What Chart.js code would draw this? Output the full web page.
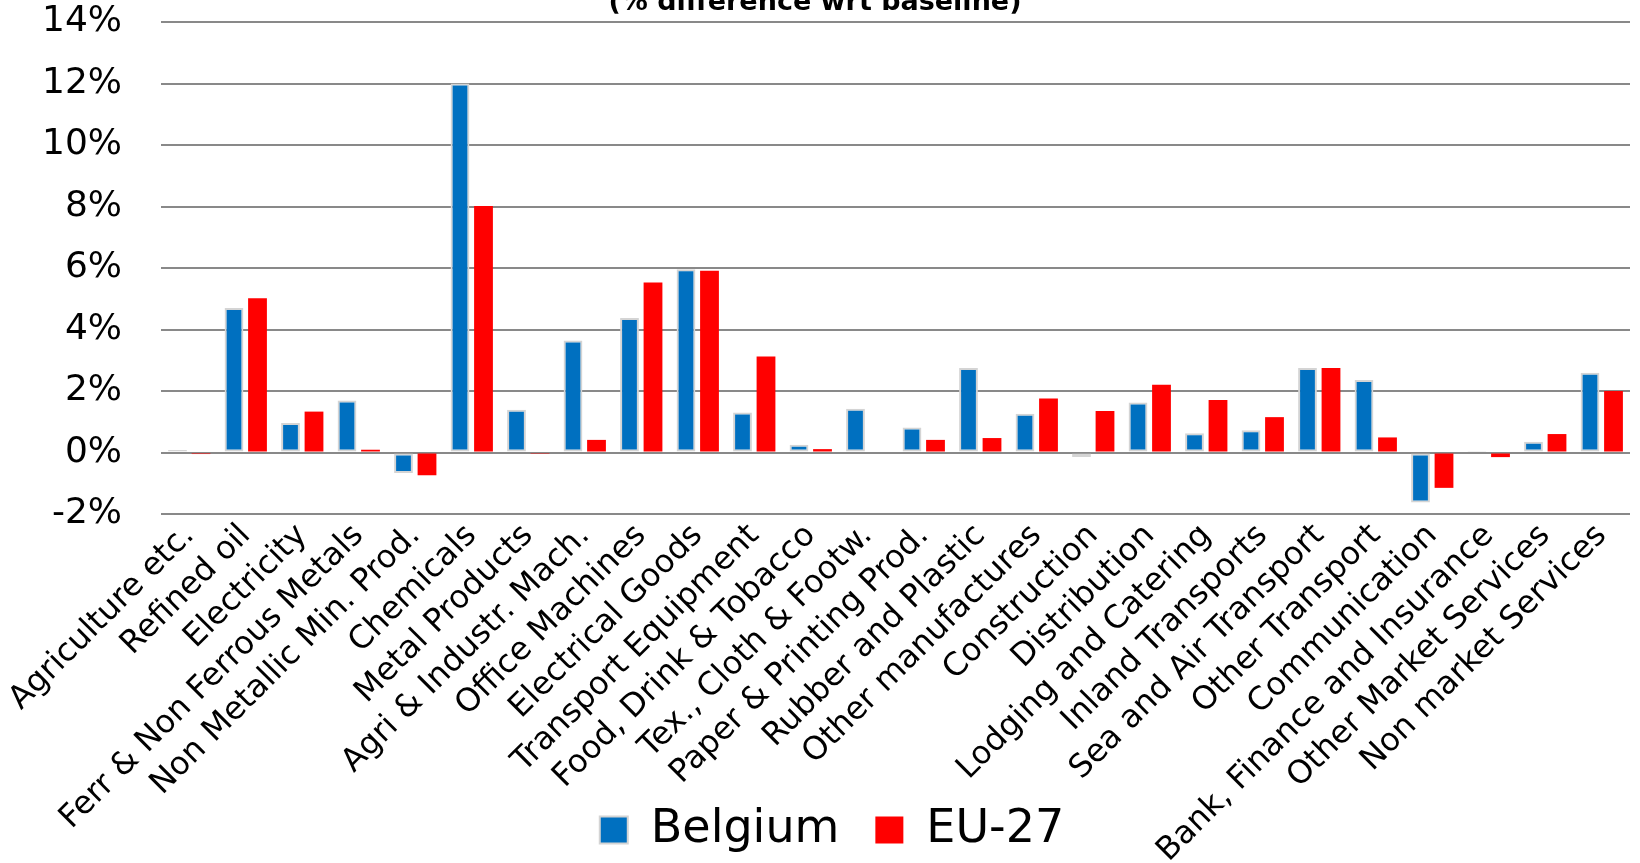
<!DOCTYPE html>
<html>
<head>
<meta charset="utf-8">
<script src="https://cdn.jsdelivr.net/npm/chart.js@4/dist/chart.umd.min.js"></script>
<style>
  html, body { margin: 0; padding: 0; background: #ffffff; overflow: hidden; width: 1640px; height: 863px; }
  #wrap { position: absolute; left: 0; top: -13px; width: 1640px; height: 876px; }
</style>
</head>
<body>
<div id="wrap"><canvas id="chart" width="1640" height="876"></canvas></div>
<script>
// Sectors on the category axis
const sectors = [
  'Agriculture etc.', 'Refined oil', 'Electricity', 'Ferr & Non Ferrous Metals',
  'Non Metallic Min. Prod.', 'Chemicals', 'Metal Products', 'Agri & Industr. Mach.',
  'Office Machines', 'Electrical Goods', 'Transport Equipment', 'Food, Drink & Tobacco',
  'Tex., Cloth & Footw.', 'Paper & Printing Prod.', 'Rubber and Plastic', 'Other manufactures',
  'Construction', 'Distribution', 'Lodging and Catering', 'Inland Transports',
  'Sea and Air Transport', 'Other Transport', 'Communication', 'Bank, Finance and Insurance',
  'Other Market Services', 'Non market Services'
];

// % difference with respect to the baseline
const belgium = [
  0.08, 4.70, 0.96, 1.69, -0.67, 12.00, 1.39, 3.64, 4.37, 5.96, 1.30, 0.25, 1.42,
  0.81, 2.75, 1.26, -0.15, 1.63, 0.63, 0.72, 2.75, 2.36, -1.63, 0.02, 0.35, 2.59
];
const eu27 = [
  -0.05, 5.02, 1.33, 0.09, -0.74, 8.02, -0.02, 0.41, 5.53, 5.91, 3.12, 0.11, 0.00,
  0.41, 0.47, 1.76, 1.35, 2.20, 1.71, 1.15, 2.75, 0.49, -1.15, -0.15, 0.60, 2.00
];

const seriesNames = ['Belgium', 'EU-27'];
const titleText = '(% difference wrt baseline)';

// Value axis range and tick spacing (percent)
const yMin = -2;
const yMax = 14;
const yStep = 2;

const CANVAS_H = 876;
const LEGEND_H = 92;

Chart.defaults.font.family = "'DejaVu Sans', Verdana, sans-serif";
Chart.defaults.color = '#000000';

// The legend takes no layout space (so the rotated sector names are not clipped);
// it is placed in the bottom strip once the layout is done.
const legendPlacement = {
  id: 'legendPlacement',
  afterLayout(chart, args, opts) {
    const lg = chart.legend;
    if (!lg) return;
    lg.left += opts.dx;
    lg.right += opts.dx;
    lg.top = CANVAS_H - LEGEND_H;
    lg.bottom = CANVAS_H;
    lg.height = LEGEND_H;
  }
};

new Chart(document.getElementById('chart'), {
  type: 'bar',
  data: {
    labels: sectors,
    datasets: [
      {
        label: seriesNames[0],
        data: belgium,
        backgroundColor: '#0070C0',
        borderColor: '#D4D4D4',
        borderWidth: 2,
        borderSkipped: false
      },
      {
        label: seriesNames[1],
        data: eu27,
        backgroundColor: '#FF0000',
        borderColor: '#FF0000',
        borderWidth: 0
      }
    ]
  },
  plugins: [legendPlacement],
  options: {
    responsive: false,
    devicePixelRatio: 1,
    animation: false,
    categoryPercentage: 0.832,
    barPercentage: 0.8,
    layout: { padding: { left: 0, right: 10, top: 0, bottom: 0 } },
    plugins: {
      legendPlacement: { dx: 17 },
      tooltip: { enabled: false },
      title: {
        display: true,
        text: titleText,
        color: '#000000',
        font: { size: 27, weight: 'bold', lineHeight: 1.2 },
        padding: { top: 0, bottom: 2.6 }
      },
      legend: {
        display: true,
        position: 'bottom',
        maxHeight: 1,
        labels: {
          color: '#000000',
          font: { size: 46 },
          boxWidth: 28,
          boxHeight: 27,
          padding: 36
        }
      }
    },
    scales: {
      x: {
        grid: { display: false },
        border: { display: false },
        ticks: {
          autoSkip: false,
          minRotation: 45,
          maxRotation: 45,
          padding: -5,
          color: '#000000',
          font: { size: 32 }
        },
        afterFit(scale) { scale.height = 348; }
      },
      y: {
        min: yMin,
        max: yMax,
        border: { display: false },
        grid: {
          color: '#898989',
          lineWidth: 2,
          drawTicks: true,
          tickLength: 36,
          tickColor: 'rgba(0,0,0,0)'
        },
        ticks: {
          stepSize: yStep,
          padding: 3,
          color: '#000000',
          font: { size: 36 },
          callback: (v) => v + '%'
        },
        afterFit(scale) { scale.width = 161; }
      }
    }
  }
});
</script>
</body>
</html>
